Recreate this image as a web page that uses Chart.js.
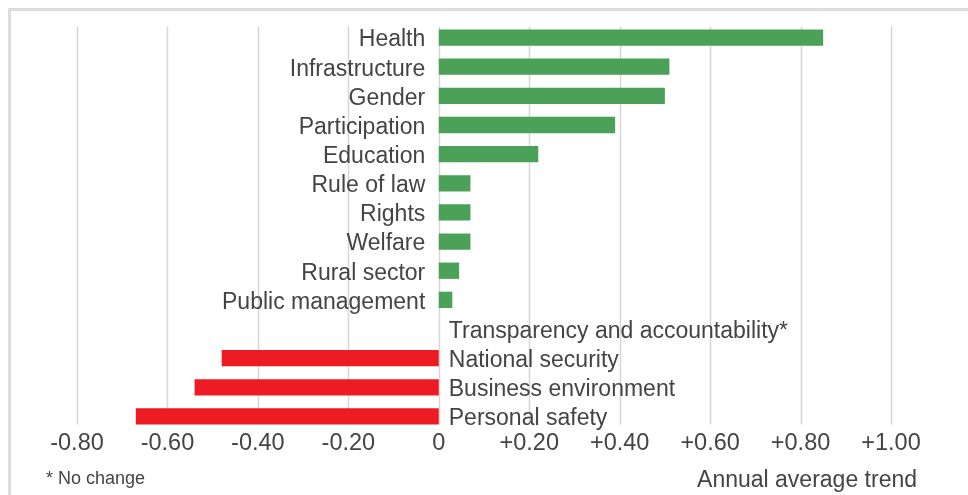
<!DOCTYPE html>
<html>
<head>
<meta charset="utf-8">
<script src="https://cdn.jsdelivr.net/npm/chart.js@4"></script>
<style>
  html, body { margin: 0; padding: 0; background: #ffffff; }
  #wrap { width: 968px; height: 495px; position: relative; }
</style>
</head>
<body>
<div id="wrap"><canvas id="c" width="968" height="495"></canvas></div>
<script>
const categories = [
  "Health", "Infrastructure", "Gender", "Participation", "Education",
  "Rule of law", "Rights", "Welfare", "Rural sector", "Public management",
  "Transparency and accountability*", "National security",
  "Business environment", "Personal safety"
];
const trendValues = [0.85, 0.51, 0.50, 0.39, 0.22, 0.07, 0.07, 0.07, 0.045, 0.03, 0, -0.48, -0.54, -0.67];
const tickValues = [-0.8, -0.6, -0.4, -0.2, 0, 0.2, 0.4, 0.6, 0.8, 1.0];
const tickLabels = ["-0.80", "-0.60", "-0.40", "-0.20", "0", "+0.20", "+0.40", "+0.60", "+0.80", "+1.00"];
const axisTitle = "Annual average trend";
const footnote = "* No change";

const GREEN = "#4aa157";
const RED = "#ed1c24";
const TEXT = "#444444";
const FONT = "'Liberation Sans', Arial, Helvetica, sans-serif";

const decorPlugin = {
  id: "decor",
  beforeDatasetsDraw(chart) {
    const ctx = chart.ctx;
    const x = chart.scales.x;
    const y = chart.scales.y;
    const top = y.getPixelForValue(0) - 11;
    const bottom = y.getPixelForValue(categories.length - 1) + 8;
    ctx.save();
    // frame
    ctx.strokeStyle = "#dcdcdc";
    ctx.lineWidth = 3;
    ctx.beginPath();
    ctx.moveTo(9.5, 500);
    ctx.lineTo(9.5, 9.5);
    ctx.lineTo(970, 9.5);
    ctx.stroke();
    // gridlines
    ctx.strokeStyle = "#d6d6d6";
    ctx.lineWidth = 1.5;
    tickValues.forEach(v => {
      const px = Math.round(x.getPixelForValue(v)) + 0.5;
      ctx.beginPath();
      ctx.moveTo(px, top);
      ctx.lineTo(px, bottom);
      ctx.stroke();
    });
    ctx.restore();
  },
  afterDatasetsDraw(chart) {
    const ctx = chart.ctx;
    const x = chart.scales.x;
    const y = chart.scales.y;
    const zero = x.getPixelForValue(0);
    ctx.save();
    ctx.fillStyle = TEXT;
    ctx.font = "23px " + FONT;
    ctx.textBaseline = "middle";
    categories.forEach((c, i) => {
      const py = y.getPixelForValue(i) + 2.5;
      if (trendValues[i] > 0) {
        ctx.textAlign = "right";
        ctx.fillText(c, zero - 13.5, py);
      } else {
        ctx.textAlign = "left";
        ctx.fillText(c, zero + 10, py);
      }
    });
    ctx.textBaseline = "alphabetic";
    ctx.textAlign = "right";
    ctx.font = "23px " + FONT;
    ctx.fillText(axisTitle, 917, 487);
    ctx.textAlign = "left";
    ctx.font = "18px " + FONT;
    ctx.fillText(footnote, 46, 484);
    ctx.restore();
  }
};

new Chart(document.getElementById("c"), {
  type: "bar",
  data: {
    labels: categories,
    datasets: [{
      data: trendValues,
      backgroundColor: trendValues.map(v => v < 0 ? RED : GREEN),
      borderWidth: 0,
      barPercentage: 0.56,
      categoryPercentage: 1.0
    }]
  },
  options: {
    indexAxis: "y",
    responsive: false,
    animation: false,
    devicePixelRatio: 1,
    layout: { padding: { left: 77, right: 77, top: 23, bottom: 0 } },
    plugins: { legend: { display: false }, tooltip: { enabled: false } },
    scales: {
      y: { display: false },
      x: {
        min: -0.8,
        max: 1.0,
        grid: { display: false, drawTicks: false },
        border: { display: false },
        afterBuildTicks(s) { s.ticks = tickValues.map(v => ({ value: v })); },
        afterFit(s) { s.height = 64; },
        ticks: {
          padding: -2,
          color: TEXT,
          font: { family: FONT, size: 23.5 },
          maxRotation: 0,
          autoSkip: false,
          callback: (v) => tickLabels[tickValues.findIndex(t => Math.abs(t - v) < 1e-9)]
        }
      }
    }
  },
  plugins: [decorPlugin]
});
</script>
</body>
</html>
